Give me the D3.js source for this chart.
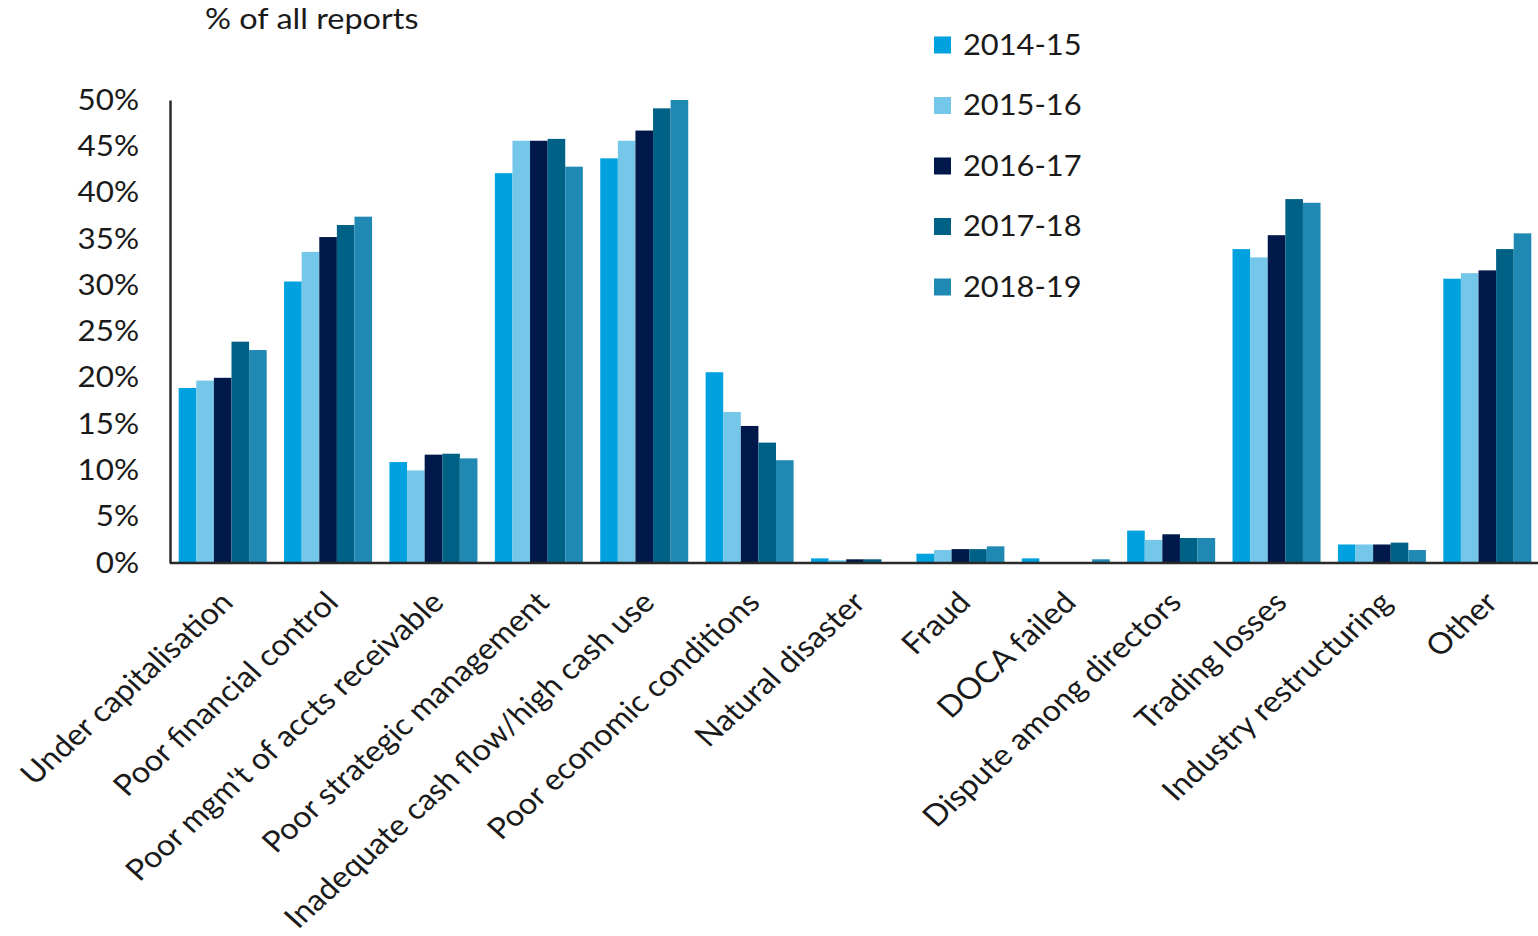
<!DOCTYPE html>
<html>
<head>
<meta charset="utf-8">
<script src="https://cdn.jsdelivr.net/npm/d3@7"></script>
<style>
  html, body { margin: 0; padding: 0; background: #ffffff; }
  svg { display: block; }
  text { font-family: Lato, "Open Sans", sans-serif; fill: #1a1a1a; }
</style>
</head>
<body>
<svg id="chart" width="1538" height="936"></svg>
<script>
// Reasons cited in external administrator reports, share of all reports
const categories = [
  "Under capitalisation",
  "Poor financial control",
  "Poor mgm't of accts receivable",
  "Poor strategic management",
  "Inadequate cash flow/high cash use",
  "Poor economic conditions",
  "Natural disaster",
  "Fraud",
  "DOCA failed",
  "Dispute among directors",
  "Trading losses",
  "Industry restructuring",
  "Other"
];

const years = ["2014-15", "2015-16", "2016-17", "2017-18", "2018-19"];

const fy2014_15 = [18.9, 30.4, 10.9, 42.1, 43.7, 20.6, 0.5, 1.0, 0.5, 3.5, 33.9, 2.0, 30.7];
const fy2015_16 = [19.7, 33.6, 10.0, 45.6, 45.6, 16.3, 0.3, 1.4, 0.0, 2.5, 33.0, 2.0, 31.3];
const fy2016_17 = [20.0, 35.2, 11.7, 45.6, 46.7, 14.8, 0.4, 1.5, 0.0, 3.1, 35.4, 2.0, 31.6];
const fy2017_18 = [23.9, 36.5, 11.8, 45.8, 49.1, 13.0, 0.4, 1.5, 0.0, 2.7, 39.3, 2.2, 33.9];
const fy2018_19 = [23.0, 37.4, 11.3, 42.8, 50.0, 11.1, 0.0, 1.8, 0.4, 2.7, 38.9, 1.4, 35.6];

const yTicks = [0, 5, 10, 15, 20, 25, 30, 35, 40, 45, 50];
const colors = ["#00A1DF", "#74C7E8", "#00194A", "#006186", "#1F89B3"];

const seriesValues = [fy2014_15, fy2015_16, fy2016_17, fy2017_18, fy2018_19];

// Type is drawn slightly wide
const SX = 1.1;

const svg = d3.select("#chart");

const plotLeft = 170, plotRight = 1540, plotTop = 100, plotBottom = 563;

const x0 = d3.scaleBand()
  .domain(categories)
  .range([plotLeft, plotRight])
  .paddingInner(0.165)
  .paddingOuter(0.0825);

const x1 = d3.scaleBand()
  .domain(years)
  .range([0, x0.bandwidth()])
  .padding(0);

const y = d3.scaleLinear().domain([0, 50]).range([plotBottom, plotTop]);

const color = d3.scaleOrdinal().domain(years).range(colors);

// Bars
const groups = svg.append("g")
  .selectAll("g")
  .data(categories)
  .join("g")
  .attr("transform", d => `translate(${x0(d)},0)`);

groups.selectAll("rect")
  .data((d, i) => years.map((yr, j) => ({ year: yr, value: seriesValues[j][i] })))
  .join("rect")
  .attr("x", d => x1(d.year))
  .attr("width", x1.bandwidth())
  .attr("y", d => y(d.value))
  .attr("height", d => y(0) - y(d.value))
  .attr("fill", d => color(d.year));

// Y axis
const yAxis = svg.append("g")
  .attr("transform", `translate(${plotLeft},0)`)
  .call(d3.axisLeft(y)
    .tickValues(yTicks)
    .tickSize(0)
    .tickPadding(31)
    .tickFormat(d => d + "%"));

yAxis.select(".domain")
  .attr("stroke", "#2a2a2a")
  .attr("stroke-width", 2.5);

yAxis.selectAll(".tick text")
  .attr("font-size", 28.5)
  .attr("font-family", "Lato, 'Open Sans', sans-serif")
  .attr("fill", "#1a1a1a")
  .attr("x", null)
  .attr("transform", `translate(-31,0) scale(${SX},1)`);

// X axis
const xAxis = svg.append("g")
  .attr("transform", `translate(0,${plotBottom})`)
  .call(d3.axisBottom(x0).tickSize(0).tickPadding(0));

xAxis.select(".domain")
  .attr("stroke", "#2a2a2a")
  .attr("stroke-width", 2.5)
  .attr("d", `M${plotLeft},0H1538`);

xAxis.selectAll(".tick text")
  .attr("font-size", 29.5)
  .attr("font-family", "Lato, 'Open Sans', sans-serif")
  .attr("fill", "#1a1a1a")
  .attr("text-anchor", "end")
  .attr("x", null)
  .attr("y", null)
  .attr("dy", "0.35em")
  .attr("transform", `translate(4,34) scale(${SX},1) rotate(-45)`);

// Axis title
svg.append("text")
  .attr("transform", `translate(205,29) scale(${SX},1)`)
  .attr("font-size", 29.5)
  .text("% of all reports");

// Legend
const legend = svg.append("g")
  .selectAll("g")
  .data(years)
  .join("g")
  .attr("transform", (d, i) => `translate(934,${45 + i * 60.5})`);

legend.append("rect")
  .attr("x", 0)
  .attr("y", -8.5)
  .attr("width", 17)
  .attr("height", 17)
  .attr("fill", d => color(d));

legend.append("text")
  .attr("transform", `translate(29,0) scale(${SX},1)`)
  .attr("dy", "0.35em")
  .attr("font-size", 28)
  .text(d => d);
</script>
</body>
</html>
